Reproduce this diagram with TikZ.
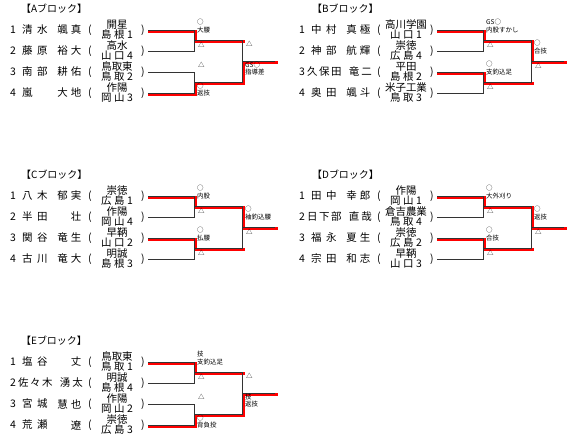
\documentclass[tikz,border=0pt]{standalone}
\usepackage{fontspec}
\setmainfont{Noto Sans CJK JP}
\newcommand\kA{\kern4.5bp}
\newcommand\kB{\kern1.5bp}
\newcommand\kD{\kern3bp}
\newcommand\kE{\kern2bp}
\newcommand\kC{\kern2.5bp}
\tikzset{
  txt/.style={inner sep=0pt, font=\fontsize{10.5}{11}\selectfont},
  sch/.style={inner sep=0pt, font=\fontsize{10.5}{11}\selectfont},
  ttl/.style={inner sep=0pt, anchor=west, font=\fontsize{10}{10}\selectfont},
  lab/.style={inner sep=0pt, anchor=west, font=\fontsize{6.5}{7}\selectfont},
  ln/.style={draw=black!80, line width=0.9bp},
  win/.style={draw=red, line width=3.2bp, line cap=rect},
}
% #1 id, #2 y, #3 num, #4 surname, #5 given, #6 school top, #7 school bottom
\newcommand\player[7]{%
  \node[txt] (#1n) at (13,#2) {#3};
  \node[txt,anchor=west] (#1s) at (22,#2) {#4};
  \node[txt,anchor=east] (#1g) at (81.5,#2) {#5};
  \node[txt] (#1l) at (90,#2) {(};
  \node[sch] (#1t) at (117,#2-5.5) {#6};
  \node[sch] (#1b) at (117,#2+5) {#7};
  \node[txt] (#1r) at (143,#2) {)};
  \coordinate (#1e) at (148,#2);
}
% same, three-character surname
\newcommand\playerL[7]{%
  \node[txt] (#1n) at (13,#2) {#3};
  \node[txt,anchor=west] (#1s) at (18,#2) {#4};
  \node[txt,anchor=east] (#1g) at (83,#2) {#5};
  \node[txt] (#1l) at (90,#2) {(};
  \node[sch] (#1t) at (117,#2-5.5) {#6};
  \node[sch] (#1b) at (117,#2+5) {#7};
  \node[txt] (#1r) at (143,#2) {)};
  \coordinate (#1e) at (148,#2);
}
% #1 block id, #2 winner match1 (1/2), #3 winner match2 (3/4), #4 final from f1/f2
\newcommand\bracket[4]{%
  \coordinate (#1a1) at (194,30);
  \coordinate (#1a2) at (194,51);
  \coordinate (#1a3) at (194,72);
  \coordinate (#1a4) at (194,93);
  \coordinate (#1s1) at (194,40.5);
  \coordinate (#1s2) at (194,82.5);
  \coordinate (#1f1) at (242,40.5);
  \coordinate (#1f2) at (242,82.5);
  \coordinate (#1fo) at (242,61.5);
  \coordinate (#1end) at (275,61.5);
  \draw[win] ([shift={(1.2,1.2)}]#1#2e) -- ([shift={(1.2,1.2)}]#1a#2) -- ([shift={(1.2,1.2)}]#1s1) -- ([shift={(1.2,1.2)}]#1f1);
  \draw[win] ([shift={(1.2,1.2)}]#1#3e) -- ([shift={(1.2,1.2)}]#1a#3) -- ([shift={(1.2,1.2)}]#1s2) -- ([shift={(1.2,1.2)}]#1f2);
  \draw[win] ([shift={(1.2,1.2)}]#1#4) -- ([shift={(1.2,1.2)}]#1fo) -- ([shift={(1.2,1.2)}]#1end);
  \draw[ln] (#11e) -- (#1a1) -- (#1a2) -- (#12e);
  \draw[ln] (#13e) -- (#1a3) -- (#1a4) -- (#14e);
  \draw[ln] (#1s1) -- (#1f1) -- (#1f2) -- (#1s2);
  \draw[ln] (#1fo) -- (#1end);
}
% winner label above line: #1 id, #2 x, #3 line y, #4 line1, #5 line2
\newcommand\wintop[5]{%
  \node[lab] (#1w1) at (#2,#3-18.5) {#4};
  \node[lab] (#1w2) at (#2,#3-10.5) {#5};
  \node[lab] (#1ls) at (#2+1,#3+4) {△};
}
\newcommand\winbot[5]{%
  \node[lab] (#1ls) at (#2+1,#3-17.5) {△};
  \node[lab] (#1w1) at (#2,#3+3.5) {#4};
  \node[lab] (#1w2) at (#2,#3+11) {#5};
}
\begin{document}
\begin{tikzpicture}[x=1bp,y=-1bp]
\useasboundingbox (0,0) rectangle (572,436);
% ---------------- A
\begin{scope}[shift={(0,0)}]
  \node[ttl] (At) at (21,9) {【Aブロック】};
  \player{A1}{30}{1}{清\kA 水}{颯\kD 真}{開星}{島\kC 根\kC 1}
  \player{A2}{51}{2}{藤\kA 原}{裕\kD 大}{高水}{山\kC 口\kC 4}
  \player{A3}{72}{3}{南\kA 部}{耕\kD 佑}{鳥取東}{鳥\kC 取\kC 2}
  \player{A4}{93}{4}{嵐}{大\kD 地}{作陽}{岡\kC 山\kC 3}
  \bracket{A}{1}{4}{f2}
  \wintop{As1}{197}{40.5}{○}{大腰}
  \winbot{As2}{197}{82.5}{○}{返技}
  \winbot{Af}{245}{61.5}{GS○}{指導差}
\end{scope}
% ---------------- B
\begin{scope}[shift={(289,0)}]
  \node[ttl] (Bt) at (23,9) {【Bブロック】};
  \player{B1}{30}{1}{中\kA 村}{真\kD 極}{高川学園}{山\kC 口\kC 1}
  \player{B2}{51}{2}{神\kA 部}{航\kD 輝}{崇徳}{広\kC 島\kC 4}
  \playerL{B3}{72}{3}{久\kB 保\kB 田}{竜\kE 二}{平田}{島\kC 根\kC 2}
  \player{B4}{93}{4}{奥\kA 田}{颯\kD 斗}{米子工業}{鳥\kC 取\kC 3}
  \bracket{B}{1}{3}{f1}
  \wintop{Bs1}{197}{40.5}{GS○}{内股すかし}
  \wintop{Bs2}{197}{82.5}{○}{支釣込足}
  \wintop{Bf}{245}{61.5}{○}{合技}
\end{scope}
% ---------------- C
\begin{scope}[shift={(0,166)}]
  \node[ttl] (Ct) at (21,9) {【Cブロック】};
  \player{C1}{30}{1}{八\kA 木}{郁\kD 実}{崇徳}{広\kC 島\kC 1}
  \player{C2}{51}{2}{半\kA 田}{壮}{作陽}{岡\kC 山\kC 4}
  \player{C3}{72}{3}{関\kA 谷}{竜\kD 生}{早鞆}{山\kC 口\kC 2}
  \player{C4}{93}{4}{古\kA 川}{竜\kD 大}{明誠}{島\kC 根\kC 3}
  \bracket{C}{1}{3}{f1}
  \wintop{Cs1}{197}{40.5}{○}{内股}
  \wintop{Cs2}{197}{82.5}{○}{払腰}
  \wintop{Cf}{245}{61.5}{○}{袖釣込腰}
\end{scope}
% ---------------- D
\begin{scope}[shift={(289,166)}]
  \node[ttl] (Dt) at (23,9) {【Dブロック】};
  \player{D1}{30}{1}{田\kA 中}{幸\kD 郎}{作陽}{岡\kC 山\kC 1}
  \playerL{D2}{51}{2}{日\kB 下\kB 部}{直\kE 哉}{倉吉農業}{鳥\kC 取\kC 4}
  \player{D3}{72}{3}{福\kA 永}{夏\kD 生}{崇徳}{広\kC 島\kC 2}
  \player{D4}{93}{4}{宗\kA 田}{和\kD 志}{早鞆}{山\kC 口\kC 3}
  \bracket{D}{1}{3}{f1}
  \wintop{Ds1}{197}{40.5}{○}{大外刈り}
  \wintop{Ds2}{197}{82.5}{○}{合技}
  \wintop{Df}{245}{61.5}{○}{返技}
\end{scope}
% ---------------- E
\begin{scope}[shift={(0,332)}]
  \node[ttl] (Et) at (21,9) {【Eブロック】};
  \player{E1}{30}{1}{塩\kA 谷}{丈}{鳥取東}{鳥\kC 取\kC 1}
  \playerL{E2}{51}{2}{佐\kB 々\kB 木}{湧\kE 太}{明誠}{島\kC 根\kC 4}
  \player{E3}{72}{3}{宮\kA 城}{慧\kD 也}{作陽}{岡\kC 山\kC 2}
  \player{E4}{93}{4}{荒\kA 瀬}{遼}{崇徳}{広\kC 島\kC 3}
  \bracket{E}{1}{4}{f2}
  \wintop{Es1}{197}{40.5}{技}{支釣込足}
  \winbot{Es2}{197}{82.5}{○}{背負投}
  \winbot{Ef}{245}{61.5}{技}{返技}
\end{scope}
\end{tikzpicture}
\end{document}
